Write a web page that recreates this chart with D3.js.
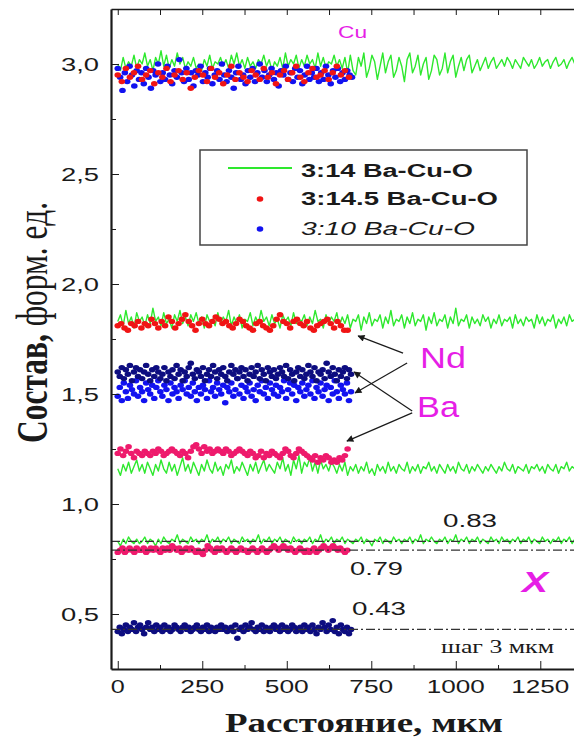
<!DOCTYPE html>
<html><head><meta charset="utf-8">
<script src="https://cdn.jsdelivr.net/npm/d3@7"></script>
<style>html,body{margin:0;padding:0;background:#fff}svg{display:block}</style>
</head><body><svg id="c" width="574" height="739"></svg>
<script>
// ---------- data ----------
const stepGreen = 8;      // µm between points of the 3:14 line
const greenCu = [3.00,2.97,3.03,2.98,3.01,2.99,3.04,2.98,3.02,3.00,3.05,2.99,3.02,2.97,3.03,3.00,3.06,2.99,3.04,2.98,
3.02,2.99,3.05,3.00,3.03,2.98,3.01,2.99,3.03,2.98,3.00,2.97,3.02,2.99,3.04,2.98,3.01,3.00,3.03,2.99,
3.02,2.98,3.04,3.00,3.05,2.99,3.02,2.98,3.03,2.99,3.01,2.98,3.02,3.00,3.04,2.99,3.02,2.97,3.01,2.99,
3.03,2.98,3.05,2.99,3.02,3.00,3.04,2.98,3.02,2.99,3.04,3.00,3.02,2.98,3.05,2.99,3.03,2.98,3.01,3.00,
3.04,2.99,3.02,2.98,3.03,2.96,3.04,2.97,2.95,3.03,2.99,3.05,2.94,2.98,3.04,3.01,2.93,2.99,3.05,2.96,
3.01,3.04,2.94,2.97,3.03,2.99,2.92,3.02,3.05,2.96,2.99,3.04,2.95,3.00,3.03,2.93,2.97,3.04,3.02,2.95,
2.98,3.05,2.96,3.01,3.04,2.94,2.99,3.03,2.97,3.02,3.04,2.96,2.99,3.02,2.97,3.00,3.03,2.98,3.01,3.03,
2.98,3.00,3.02,2.99,3.03,3.01,2.98,3.02,3.00,2.98,3.03,3.01,2.99,3.02,2.98,3.00,3.03,2.99,3.01,3.02,
2.98,3.01,3.03,2.99,3.00,3.02,2.98,3.01,3.03,3.00,2.99,3.02,3.00,2.98,3.02,3.01];
const greenNd = [1.83,1.86,1.81,1.88,1.82,1.85,1.80,1.87,1.83,1.85,1.81,1.86,1.82,1.89,1.83,1.85,1.81,1.87,1.82,1.84,
1.80,1.86,1.83,1.88,1.82,1.85,1.81,1.86,1.83,1.87,1.82,1.85,1.80,1.86,1.83,1.84,1.81,1.87,1.82,1.85,
1.83,1.88,1.81,1.85,1.82,1.86,1.80,1.84,1.83,1.87,1.81,1.85,1.82,1.88,1.83,1.85,1.81,1.86,1.82,1.84,
1.80,1.86,1.83,1.85,1.81,1.87,1.82,1.84,1.83,1.86,1.81,1.85,1.82,1.88,1.83,1.84,1.80,1.86,1.82,1.85,
1.83,1.87,1.81,1.85,1.82,1.86,1.80,1.84,1.83,1.86,1.79,1.85,1.82,1.87,1.81,1.84,1.83,1.86,1.80,1.85,
1.82,1.88,1.81,1.84,1.83,1.86,1.80,1.85,1.82,1.87,1.81,1.84,1.83,1.86,1.79,1.85,1.82,1.87,1.81,1.84,
1.83,1.86,1.80,1.85,1.82,1.89,1.81,1.84,1.83,1.86,1.80,1.85,1.82,1.84,1.81,1.86,1.83,1.85,1.80,1.84,
1.82,1.86,1.81,1.84,1.83,1.85,1.80,1.86,1.82,1.84,1.81,1.85,1.83,1.84,1.80,1.86,1.82,1.85,1.81,1.84,
1.83,1.86,1.80,1.84,1.82,1.85,1.81,1.86,1.83,1.84,1.80,1.85,1.82,1.84,1.81,1.85];
const greenBa = [1.16,1.13,1.18,1.15,1.19,1.14,1.17,1.20,1.15,1.18,1.14,1.19,1.16,1.13,1.18,1.15,1.20,1.16,1.14,1.19,
1.15,1.18,1.13,1.17,1.21,1.15,1.18,1.14,1.19,1.16,1.13,1.18,1.15,1.20,1.16,1.14,1.19,1.15,1.17,1.13,
1.18,1.16,1.20,1.14,1.17,1.15,1.19,1.16,1.13,1.18,1.15,1.19,1.14,1.17,1.20,1.15,1.18,1.16,1.14,1.19,
1.16,1.21,1.15,1.18,1.13,1.20,1.16,1.22,1.14,1.19,1.17,1.21,1.15,1.19,1.14,1.20,1.16,1.18,1.15,1.19,
1.17,1.14,1.18,1.15,1.19,1.13,1.17,1.15,1.18,1.14,1.17,1.15,1.19,1.14,1.16,1.13,1.18,1.15,1.17,1.14,
1.19,1.15,1.17,1.14,1.18,1.16,1.15,1.19,1.14,1.17,1.15,1.18,1.14,1.17,1.16,1.19,1.15,1.17,1.14,1.18,
1.16,1.14,1.18,1.15,1.17,1.14,1.19,1.16,1.15,1.18,1.14,1.17,1.15,1.18,1.16,1.14,1.17,1.15,1.18,1.16,
1.14,1.17,1.15,1.19,1.16,1.15,1.18,1.14,1.17,1.16,1.15,1.18,1.14,1.17,1.16,1.18,1.15,1.17,1.14,1.18,
1.16,1.15,1.18,1.14,1.17,1.16,1.19,1.15,1.17,1.16,1.14,1.18,1.15,1.17,1.16,1.18];
const greenX = [0.83,0.81,0.84,0.82,0.85,0.83,0.82,0.84,0.82,0.83,0.85,0.82,0.84,0.83,0.81,0.84,0.82,0.85,0.83,0.82,
0.84,0.83,0.86,0.82,0.84,0.83,0.82,0.85,0.83,0.84,0.82,0.84,0.83,0.86,0.82,0.84,0.83,0.85,0.82,0.84,
0.83,0.85,0.82,0.84,0.83,0.82,0.85,0.83,0.84,0.82,0.84,0.83,0.86,0.82,0.84,0.83,0.85,0.82,0.84,0.83,
0.85,0.82,0.84,0.83,0.82,0.85,0.83,0.84,0.82,0.84,0.83,0.85,0.82,0.84,0.83,0.86,0.82,0.84,0.83,0.85,
0.82,0.84,0.83,0.85,0.82,0.84,0.83,0.82,0.84,0.83,0.85,0.82,0.84,0.83,0.81,0.84,0.83,0.85,0.82,0.84,
0.83,0.82,0.85,0.83,0.84,0.82,0.84,0.83,0.85,0.82,0.84,0.83,0.86,0.82,0.84,0.83,0.85,0.83,0.82,0.84,
0.83,0.85,0.82,0.84,0.83,0.86,0.82,0.84,0.83,0.85,0.82,0.84,0.83,0.85,0.82,0.84,0.83,0.82,0.85,0.83,
0.84,0.82,0.85,0.83,0.84,0.82,0.84,0.83,0.85,0.82,0.84,0.83,0.85,0.82,0.84,0.83,0.82,0.85,0.83,0.84,
0.82,0.84,0.83,0.85,0.82,0.84,0.83,0.85,0.82,0.84,0.83,0.85,0.82,0.84,0.83,0.84];

// 3:14.5 Ba-Cu-O (dots)
const stepRedCu = 12;
const redCu = [2.95,2.92,2.98,2.94,2.96,2.99,2.93,2.95,2.97,2.91,2.96,2.94,2.98,2.92,2.95,2.97,2.93,2.96,2.89,2.94,
2.97,2.95,2.92,2.98,2.94,2.96,2.91,2.95,2.99,2.93,2.96,2.94,2.92,2.97,2.95,2.93,2.98,2.94,2.96,2.91,
2.95,2.97,2.93,2.96,2.99,2.94,2.92,2.96,2.98,2.94,2.95,2.97,2.93,2.96,2.99,2.95,2.97,2.94];
const stepRedNd = 10;
const redNd = [1.81,1.82,1.80,1.79,1.82,1.81,1.83,1.80,1.82,1.81,1.84,1.82,1.80,1.83,1.81,1.85,1.83,1.80,1.82,1.84,
1.86,1.83,1.81,1.79,1.82,1.84,1.82,1.81,1.83,1.85,1.84,1.82,1.83,1.81,1.80,1.82,1.84,1.83,1.81,1.80,
1.79,1.82,1.83,1.81,1.80,1.79,1.81,1.84,1.86,1.83,1.82,1.80,1.83,1.84,1.82,1.81,1.83,1.80,1.79,1.81,
1.82,1.83,1.84,1.82,1.80,1.83,1.81,1.79,1.79];
const stepPinkBa = 8;
const pinkBa = [1.23,1.25,1.22,1.24,1.26,1.23,1.21,1.24,1.23,1.22,1.24,1.23,1.22,1.24,1.23,1.25,1.24,1.22,1.23,1.24,
1.25,1.24,1.23,1.22,1.24,1.23,1.21,1.24,1.26,1.27,1.25,1.23,1.26,1.24,1.25,1.23,1.24,1.25,1.24,1.23,
1.25,1.24,1.22,1.23,1.24,1.25,1.24,1.23,1.22,1.24,1.23,1.21,1.22,1.24,1.21,1.23,1.22,1.24,1.23,1.22,
1.21,1.23,1.25,1.24,1.22,1.21,1.23,1.25,1.24,1.23,1.22,1.21,1.20,1.22,1.19,1.21,1.20,1.22,1.21,1.19,
1.20,1.19,1.21,1.20,1.22,1.25];
const stepPinkX = 7;
const pinkX = [0.78,0.79,0.80,0.78,0.79,0.80,0.79,0.78,0.80,0.79,0.79,0.80,0.78,0.79,0.80,0.79,0.80,0.79,0.78,0.80,
0.79,0.80,0.79,0.81,0.80,0.79,0.80,0.78,0.79,0.80,0.79,0.80,0.79,0.78,0.79,0.78,0.77,0.79,0.81,0.80,
0.79,0.78,0.80,0.79,0.80,0.79,0.78,0.79,0.80,0.79,0.78,0.79,0.80,0.79,0.79,0.78,0.79,0.80,0.79,0.78,
0.79,0.80,0.79,0.78,0.79,0.80,0.81,0.80,0.79,0.80,0.81,0.80,0.79,0.80,0.79,0.78,0.79,0.80,0.79,0.78,
0.79,0.78,0.79,0.80,0.78,0.79,0.80,0.81,0.80,0.79,0.80,0.81,0.80,0.79,0.80,0.79,0.78,0.79];

// 3:10 Ba-Cu-O (dots)
const stepBlueCu = 7;
const blueCu = [2.98,2.94,2.88,2.96,2.92,2.99,2.95,2.90,2.97,2.93,2.96,2.91,2.98,2.94,2.89,2.97,2.95,3.00,2.92,2.96,
2.93,2.99,2.95,2.91,2.97,2.94,3.02,2.96,2.92,2.98,2.93,2.96,2.90,2.97,2.95,2.99,2.92,2.96,2.94,2.98,
2.91,2.95,2.97,2.93,3.00,2.95,2.92,2.97,2.94,2.89,2.96,2.99,2.93,2.95,2.91,2.97,2.94,2.98,2.92,2.96,
3.00,2.94,2.97,2.92,2.95,2.98,2.93,2.96,2.90,2.97,2.95,2.99,2.93,2.96,2.92,2.98,2.94,2.97,2.91,2.95,
2.99,2.93,2.96,2.94,2.98,2.92,2.96,2.93,2.99,2.95,2.91,2.97,2.94,2.98,2.92,2.96,2.93,2.97,2.95,2.94];
const stepBand = 6;
const navyBand = [1.60,1.58,1.62,1.57,1.61,1.59,1.63,1.56,1.60,1.62,1.58,1.61,1.57,1.60,1.63,1.59,1.56,1.61,1.58,1.62,
1.60,1.57,1.59,1.62,1.56,1.60,1.58,1.61,1.57,1.63,1.59,1.61,1.56,1.60,1.58,1.62,1.64,1.59,1.57,1.61,
1.60,1.58,1.62,1.56,1.59,1.61,1.58,1.63,1.60,1.57,1.61,1.59,1.62,1.58,1.56,1.60,1.63,1.59,1.61,1.57,
1.60,1.62,1.58,1.61,1.56,1.59,1.62,1.58,1.60,1.63,1.57,1.61,1.59,1.56,1.62,1.60,1.58,1.61,1.57,1.59,
1.62,1.60,1.58,1.63,1.57,1.61,1.59,1.56,1.60,1.62,1.58,1.61,1.57,1.59,1.63,1.60,1.58,1.62,1.56,1.60,
1.59,1.61,1.57,1.64,1.60,1.58,1.62,1.59,1.56,1.61,1.58,1.60,1.62,1.57,1.61,1.59];
const blueBand = [1.49,1.53,1.47,1.55,1.51,1.48,1.54,1.52,1.50,1.56,1.49,1.53,1.51,1.47,1.55,1.52,1.50,1.54,1.48,1.53,
1.56,1.51,1.49,1.54,1.52,1.47,1.55,1.50,1.53,1.51,1.48,1.54,1.52,1.56,1.50,1.53,1.49,1.55,1.51,1.47,
1.53,1.50,1.54,1.52,1.48,1.56,1.51,1.53,1.49,1.55,1.52,1.50,1.54,1.46,1.53,1.51,1.55,1.49,1.52,1.57,
1.50,1.54,1.48,1.53,1.51,1.55,1.49,1.52,1.47,1.54,1.51,1.56,1.50,1.53,1.48,1.55,1.52,1.50,1.54,1.49,
1.53,1.51,1.56,1.48,1.52,1.55,1.50,1.54,1.47,1.53,1.51,1.55,1.49,1.52,1.54,1.50,1.56,1.48,1.53,1.51,
1.55,1.49,1.52,1.54,1.47,1.53,1.50,1.56,1.51,1.48,1.54,1.52,1.50,1.55,1.47,1.51];
const stepNavyX = 6;
const navyX = [0.42,0.44,0.41,0.43,0.45,0.42,0.44,0.43,0.46,0.42,0.44,0.45,0.43,0.41,0.44,0.46,0.43,0.44,0.42,0.45,
0.43,0.44,0.42,0.45,0.43,0.44,0.42,0.43,0.45,0.44,0.43,0.42,0.44,0.45,0.43,0.44,0.42,0.43,0.44,0.45,
0.43,0.42,0.44,0.43,0.45,0.42,0.44,0.43,0.42,0.44,0.43,0.45,0.43,0.44,0.42,0.43,0.44,0.42,0.45,0.39,
0.43,0.44,0.42,0.45,0.43,0.44,0.46,0.43,0.42,0.44,0.43,0.45,0.42,0.44,0.43,0.42,0.44,0.45,0.43,0.44,
0.42,0.45,0.43,0.44,0.42,0.43,0.45,0.44,0.42,0.43,0.44,0.42,0.45,0.43,0.44,0.42,0.45,0.43,0.41,0.44,
0.43,0.46,0.44,0.42,0.45,0.43,0.47,0.42,0.44,0.41,0.45,0.43,0.42,0.44,0.41,0.43];

// reference levels and labels
const levels = [0.83, 0.79, 0.43];
const xTicks = [0, 250, 500, 750, 1000, 1250];
const xMinor = [125, 375, 625, 875, 1125, 1375];
const yTicks = [0.5, 1.0, 1.5, 2.0, 2.5, 3.0];
const yMinor = [0.75, 1.25, 1.75, 2.25, 2.75];
const legendLabels = ["3:14 Ba-Cu-O", "3:14.5 Ba-Cu-O", "3:10 Ba-Cu-O"];
// arrows: [fromX µm, fromY, toX µm, toY]
const arrowsNd = [[844,1.686,711,1.764],[856,1.641,702,1.505]];
const arrowsBa = [[871,1.423,699,1.600],[871,1.414,678,1.286]];

// ---------- drawing ----------
const C = {green:"#2ee82e", red:"#f01414", pink:"#ee1a6c", blue:"#1212f0", navy:"#0d0d80", mag:"#e61ee6", ink:"#1a1a1a"};
const SANS = "'Liberation Sans', Arial, sans-serif", SERIF = "'Liberation Serif', 'Times New Roman', serif";
const svg = d3.select("#c");
svg.append("rect").attr("width",574).attr("height",739).attr("fill","#fff");

const x = d3.scaleLinear().domain([-20, 1400]).range([111, 591]);
const y = d3.scaleLinear().domain([0.25, 3.25]).range([669, 9]);

function label(px, py, str, o) {
  const t = svg.append("text").attr("x", px).attr("y", py).text(str)
    .attr("font-family", o.family || SANS).attr("font-size", o.size)
    .attr("font-weight", o.weight || "normal").attr("font-style", o.style || "normal")
    .attr("fill", o.fill || C.ink);
  if (o.width) t.attr("textLength", o.width).attr("lengthAdjust", "spacingAndGlyphs");
  return t;
}

// green lines
const gLine = d3.line().x((d,i) => x(i*stepGreen)).y(d => y(d));
[greenCu, greenNd, greenBa, greenX].forEach(arr => {
  svg.append("path").attr("d", gLine(arr)).attr("fill","none")
    .attr("stroke", C.green).attr("stroke-width", 1.4).attr("stroke-linejoin","round");
});

// dots
function dots(arr, step, color) {
  svg.append("g").selectAll("ellipse").data(arr).join("ellipse")
    .attr("cx", (d,i) => x(i*step)).attr("cy", d => y(d))
    .attr("rx", 3.3).attr("ry", 2.7).attr("fill", color);
}
dots(blueCu, stepBlueCu, C.blue);
dots(redCu, stepRedCu, C.red);
dots(redNd, stepRedNd, C.red);
dots(blueBand, stepBand, C.blue);
dots(navyBand, stepBand, C.navy);
dots(pinkBa, stepPinkBa, C.pink);
dots(pinkX, stepPinkX, C.pink);
dots(navyX, stepNavyX, C.navy);

// dash-dot reference lines
svg.append("g").selectAll("line").data(levels).join("line")
  .attr("x1", x(-20)).attr("x2", x(1400)).attr("y1", d => y(d)).attr("y2", d => y(d))
  .attr("stroke", "#333").attr("stroke-width", 1.2).attr("stroke-dasharray", "9,3,2,3");

// axes
const axStyle = g => { g.selectAll("path,line").attr("stroke", C.ink); g.selectAll("text").remove(); };
svg.append("g").attr("transform", `translate(0,${y(0.25)})`)
  .call(d3.axisBottom(x).tickValues(xTicks).tickSize(-8).tickSizeOuter(0)).call(axStyle)
  .call(g => g.select(".domain").attr("stroke-width", 1.8));
svg.append("g").attr("transform", `translate(0,${y(0.25)})`)
  .call(d3.axisBottom(x).tickValues(xMinor).tickSize(-4).tickSizeOuter(0)).call(axStyle)
  .call(g => g.select(".domain").remove());
svg.append("g").attr("transform", `translate(0,${y(3.25)})`)
  .call(d3.axisTop(x).tickValues(xTicks.concat(xMinor)).tickSize(-6).tickSizeOuter(0)).call(axStyle)
  .call(g => g.select(".domain").attr("stroke-width", 1.6));
svg.append("g").attr("transform", `translate(${x(-20)},0)`)
  .call(d3.axisLeft(y).tickValues(yTicks).tickSize(-8).tickSizeOuter(0)).call(axStyle)
  .call(g => g.select(".domain").attr("stroke-width", 2.2));
svg.append("g").attr("transform", `translate(${x(-20)},0)`)
  .call(d3.axisLeft(y).tickValues(yMinor).tickSize(-5).tickSizeOuter(0)).call(axStyle)
  .call(g => g.select(".domain").remove());

// tick labels
const fmtY = d3.format(".1f");
yTicks.forEach(v => label(61, y(v) + 6.5, fmtY(v).replace(".", ","), {size: 18, width: 38}));
xTicks.forEach(v => {
  const s = String(v), w = s.length * 14 + (s.length > 1 ? 2 : 0);
  label(x(v) - w/2, 693, s, {size: 18, width: w});
});

// axis titles
label(225, 732, "Расстояние, мкм", {size: 28, weight: "bold", family: SERIF, width: 278});
const yt = svg.append("text").attr("transform", "translate(47,443) rotate(-90) scale(1,1.5)")
  .attr("font-family", SERIF).attr("font-size", 29).attr("fill", C.ink)
  .attr("textLength", 241).attr("lengthAdjust", "spacingAndGlyphs");
yt.append("tspan").attr("font-weight", "bold").text("Состав,");
yt.append("tspan").text(" форм. ед.");

// legend
svg.append("rect").attr("x", 200).attr("y", 150).attr("width", 327).attr("height", 95)
  .attr("fill", "#fff").attr("stroke", "#444").attr("stroke-width", 1.5);
svg.append("line").attr("x1", 228).attr("x2", 292).attr("y1", 168).attr("y2", 168)
  .attr("stroke", C.green).attr("stroke-width", 2);
svg.append("ellipse").attr("cx", 260).attr("cy", 199).attr("rx", 3.3).attr("ry", 2.7).attr("fill", C.red);
svg.append("ellipse").attr("cx", 260).attr("cy", 229).attr("rx", 3.3).attr("ry", 2.7).attr("fill", C.blue);
label(301, 177, legendLabels[0], {size: 18, weight: "bold", width: 172});
label(301, 205, legendLabels[1], {size: 18, weight: "bold", width: 197});
label(301, 235, legendLabels[2], {size: 18, style: "italic", width: 174});

// element labels
label(338, 38, "Cu", {size: 16, fill: C.mag, width: 29});
label(420, 368, "Nd", {size: 30, fill: C.mag, width: 46});
label(417, 417, "Ba", {size: 30, fill: C.mag, width: 42});
label(522, 592, "X", {size: 30, fill: C.mag, weight: "bold", style: "italic", width: 26});
label(443, 527, "0.83", {size: 18, width: 54});
label(350, 575, "0.79", {size: 18, width: 53});
label(352, 615, "0.43", {size: 18, width: 54});
label(441, 653, "шаг 3 мкм", {size: 18, family: SERIF, width: 113});

// arrows
const defs = svg.append("defs");
defs.append("marker").attr("id", "ah").attr("viewBox", "0 0 10 10").attr("refX", 9).attr("refY", 5)
  .attr("markerWidth", 9).attr("markerHeight", 7).attr("orient", "auto").attr("markerUnits", "userSpaceOnUse")
  .append("path").attr("d", "M0,0 L10,5 L0,10 z").attr("fill", C.ink);
svg.append("g").selectAll("line").data(arrowsNd.concat(arrowsBa)).join("line")
  .attr("x1", d => x(d[0])).attr("y1", d => y(d[1])).attr("x2", d => x(d[2])).attr("y2", d => y(d[3]))
  .attr("stroke", C.ink).attr("stroke-width", 1.2).attr("marker-end", "url(#ah)");
</script></body></html>
